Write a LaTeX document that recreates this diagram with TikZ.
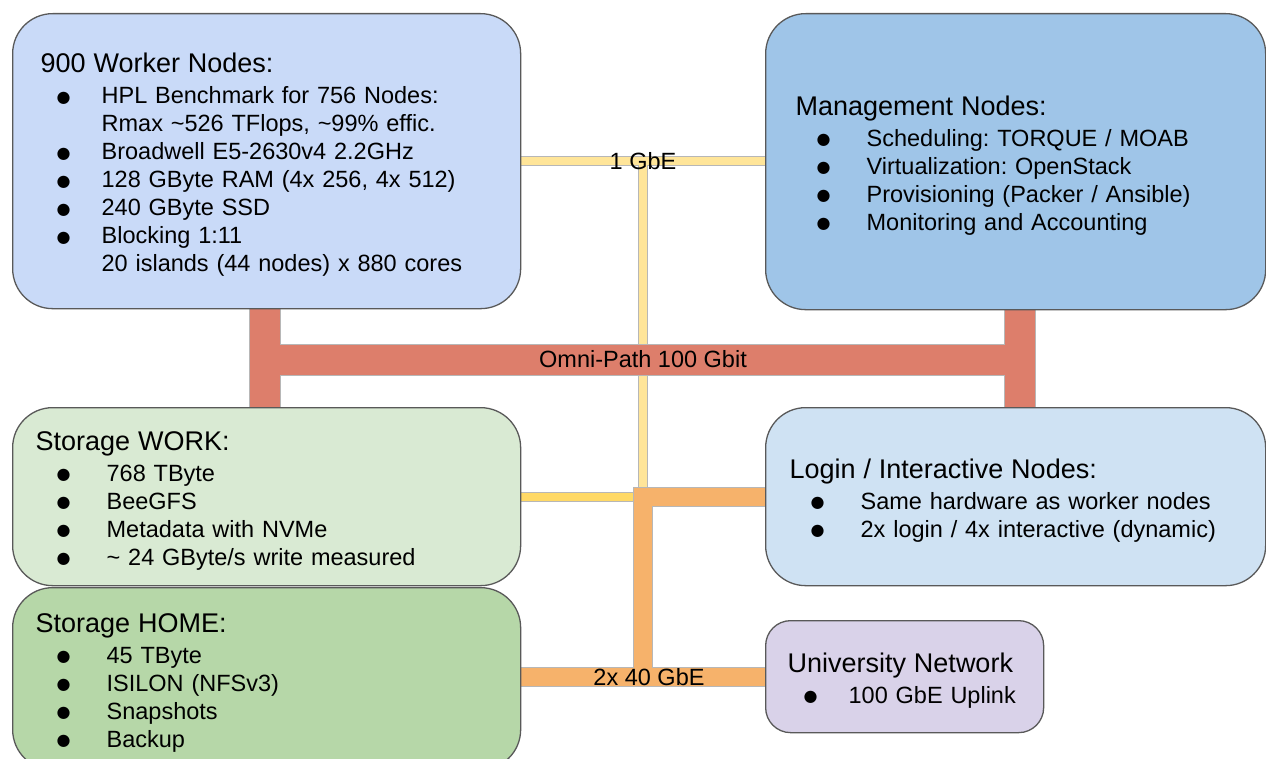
\documentclass[tikz,border=0pt]{standalone}
\usepackage{fontspec}
\setmainfont{Liberation Sans}
\newfontfamily\dotfont{DejaVu Sans}
\usetikzlibrary{backgrounds}
\definecolor{boxline}{HTML}{595959}
\definecolor{linkgray}{HTML}{B7B7B7}
\definecolor{workerfill}{HTML}{C9DAF8}
\definecolor{mgmtfill}{HTML}{9FC5E8}
\definecolor{workfill}{HTML}{D9EAD3}
\definecolor{homefill}{HTML}{B6D7A8}
\definecolor{loginfill}{HTML}{CFE2F3}
\definecolor{unifill}{HTML}{D9D2E9}
\definecolor{omnired}{HTML}{DD7E6B}
\definecolor{ethorange}{HTML}{F6B26B}
\definecolor{gbeyellow}{HTML}{FFE599}
\definecolor{workyellow}{HTML}{FFD966}
\newcommand{\boxtitle}[1]{\rule{0pt}{27pt}{\fontsize{27}{28}\selectfont #1}\\[3pt]}
\newcommand{\bullitem}[2][28]{\hspace*{#1pt}\makebox[0pt]{\raisebox{1.5pt}{\dotfont\fontsize{16}{16}\selectfont ●}}\hspace*{\dimexpr#1pt+15pt\relax}#2}
\tikzset{box/.style={draw=boxline, line width=1.3pt, rounded corners=40pt,
           anchor=north west, align=left, inner ysep=0pt,
           font=\fontsize{23.5}{28}\selectfont\frenchspacing},
         linklabel/.style={inner sep=0pt, font=\fontsize{23.5}{28}\selectfont},
         gbe/.style={line width=8pt, draw=gbeyellow, preaction={draw=linkgray, line width=10pt}},
         gbework/.style={line width=8pt, draw=workyellow, preaction={draw=linkgray, line width=10pt}},
         eth/.style={line width=18pt, draw=ethorange, preaction={draw=linkgray, line width=20pt}},
         omni/.style={line width=30pt, draw=omnired, preaction={draw=linkgray, line width=32pt}}}
\begin{document}
\begin{tikzpicture}[x=1pt,y=-1pt]
  \useasboundingbox (0,0) rectangle (1266,759);
  \clip (0,0) rectangle (1266,759);
  \node[box, fill=workerfill, minimum width=508pt, minimum height=295pt, text width=452pt, inner xsep=28pt] (worker) at (12,13) {%
    \boxtitle{900 Worker Nodes:}
    \bullitem[23]{HPL Benchmark for 756 Nodes:}\\
    \hspace*{61pt}Rmax \textasciitilde526 TFlops, \textasciitilde99\% effic.\\
    \bullitem[23]{Broadwell E5-2630v4 2.2GHz}\\
    \bullitem[23]{128 GByte RAM (4x 256, 4x 512)}\\
    \bullitem[23]{240 GByte SSD}\\
    \bullitem[23]{Blocking 1:11}\\
    \hspace*{61pt}20 islands (44 nodes) x 880 cores};
  \node[box, fill=mgmtfill, minimum width=500pt, minimum height=296pt, text width=440pt, inner xsep=30pt] (mgmt) at (765,13) {%
    \boxtitle{Management Nodes:}
    \bullitem{Scheduling: TORQUE / MOAB}\\
    \bullitem{Virtualization: OpenStack}\\
    \bullitem{Provisioning (Packer / Ansible)}\\
    \bullitem{Monitoring and Accounting}};
  \node[box, fill=workfill, minimum width=508pt, minimum height=178pt, text width=462pt, inner xsep=23pt] (work) at (12,407) {%
    \boxtitle{Storage WORK:}
    \bullitem{768 TByte}\\
    \bullitem{BeeGFS}\\
    \bullitem{Metadata with NVMe}\\
    \bullitem{\textasciitilde{} 24 GByte/s write measured}};
  \node[box, fill=homefill, minimum width=508pt, minimum height=182pt, text width=462pt, inner xsep=23pt] (home) at (12,587) {%
    \boxtitle{Storage HOME:}
    \bullitem{45 TByte}\\
    \bullitem{ISILON (NFSv3)}\\
    \bullitem{Snapshots}\\
    \bullitem{Backup}};
  \node[box, fill=loginfill, minimum width=500pt, minimum height=178pt, text width=452pt, inner xsep=24pt] (login) at (765,407) {%
    \boxtitle{Login / Interactive Nodes:}
    \bullitem{Same hardware as worker nodes}\\
    \bullitem{2x login / 4x interactive (dynamic)}};
  \node[box, fill=unifill, rounded corners=25pt, minimum width=278pt, minimum height=112pt, text width=234pt, inner xsep=22pt] (uni) at (765,620) {%
    \boxtitle{University Network}
    \bullitem[23]{100 GbE Uplink}};

  \coordinate (gbe) at (643,161);
  \coordinate (lan) at (643,497);
  \coordinate (wan) at (643,677);
  \coordinate (opl) at (265,360);
  \coordinate (opr) at (1020,360);
  \begin{pgfonlayer}{background}
    \draw[gbe] (worker.east |- gbe) -- (mgmt.west |- gbe) (gbe) -- (lan);
    \draw[gbework] (work.east |- lan) -- (lan);
    \draw[eth] (login.west |- lan) -- (lan) -- (wan) (home.east |- wan) -- (uni.west |- wan);
    \draw[omni] (worker.south -| opl) -- (work.north -| opl) (mgmt.south -| opr) -- (login.north -| opr) (opl) -- (opr);
  \end{pgfonlayer}
  \node[linklabel] (gbelabel) at (gbe) {1 GbE};
  \node[linklabel] (omnilabel) at (643,359) {Omni-Path 100 Gbit};
  \node[linklabel] (ethlabel) at (649,677) {2x 40 GbE};
\end{tikzpicture}
\end{document}
